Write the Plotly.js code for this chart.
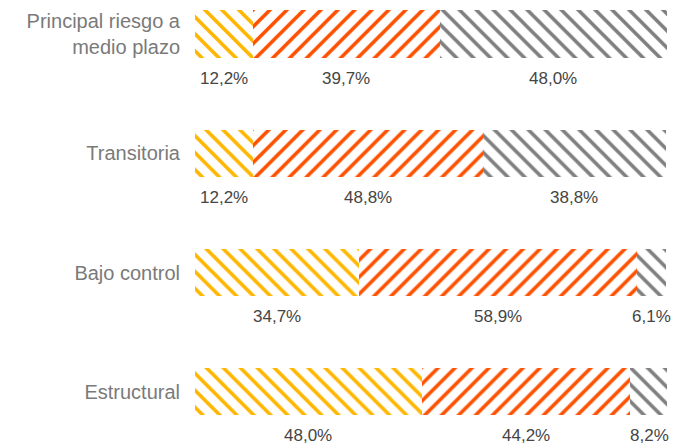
<!DOCTYPE html>
<html>
<head>
<meta charset="utf-8">
<script src="https://cdn.plot.ly/plotly-3.0.1.min.js"></script>
<style>html,body{margin:0;padding:0;background:#fff;}#chart{width:675px;height:444px;}</style>
</head>
<body>
<div id="chart"></div>
<script>
const categories = ["Principal riesgo a<br>medio plazo", "Transitoria", "Bajo control", "Estructural"];
const seriesA = [12.2, 12.2, 34.7, 48.0];
const seriesB = [39.7, 48.8, 58.9, 44.2];
const seriesC = [48.0, 38.8, 6.1, 8.2];
const labelsA = ["12,2%", "12,2%", "34,7%", "48,0%"];
const labelsB = ["39,7%", "48,8%", "58,9%", "44,2%"];
const labelsC = ["48,0%", "38,8%", "6,1%", "8,2%"];

const colors = ["#FFB600", "#FE5000", "#7F7F7F"];
const shapes = ["\\", "/", "\\"];
const allSeries = [seriesA, seriesB, seriesC];
const allLabels = [labelsA, labelsB, labelsC];

const traces = allSeries.map((s, i) => ({
  type: "bar",
  orientation: "h",
  y: categories,
  x: s,
  marker: {
    color: "#ffffff",
    line: {width: 0},
    pattern: {shape: shapes[i], fgcolor: colors[i], fgopacity: 1, bgcolor: "#ffffff", size: 12, solidity: 0.3, fillmode: "replace"}
  },
  hoverinfo: "skip",
  showlegend: false
}));

const annotations = [];
categories.forEach((c, j) => {
  let base = 0;
  allSeries.forEach((s, i) => {
    annotations.push({
      x: base + s[j] / 2, y: c, xref: "x", yref: "y",
      text: allLabels[i][j], showarrow: false, yshift: -44,
      font: {family: "Liberation Sans, Arial, sans-serif", size: 17, color: "#454545"}
    });
    base += s[j];
  });
});

const layout = {
  width: 675, height: 444,
  margin: {l: 195, r: 8, t: 0, b: 0},
  paper_bgcolor: "#fff", plot_bgcolor: "#fff",
  barmode: "stack", bargap: 0.605,
  xaxis: {range: [0, 100], visible: false, fixedrange: true},
  yaxis: {
    type: "category", categoryorder: "array", categoryarray: categories,
    range: [3.437, -0.285], showgrid: false, zeroline: false, showline: false,
    ticks: "", ticklabelstandoff: 14,
    tickfont: {family: "Liberation Sans, Arial, sans-serif", size: 20, color: "#7a7a7a"}
  },
  annotations: annotations,
  font: {family: "Liberation Sans, Arial, sans-serif"}
};

Plotly.newPlot("chart", traces, layout, {displayModeBar: false, staticPlot: true});
</script>
</body>
</html>
